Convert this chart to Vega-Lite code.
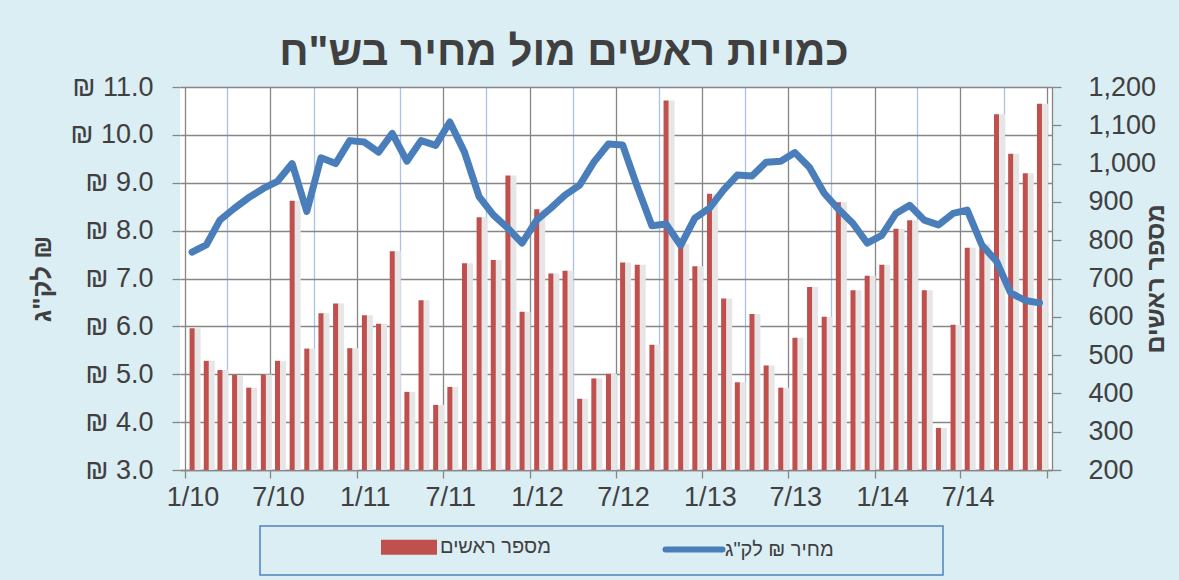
{
  "$schema": "https://vega.github.io/schema/vega-lite/v6.json",
  "width": 872,
  "height": 383,
  "autosize": {"type": "none"},
  "padding": {"left": 180, "top": 87, "right": 127, "bottom": 110},
  "background": "#dbeef4",
  "config": {"font": "Liberation Sans", "view": {"fill": "white", "stroke": null}},
  "title": {"text": "כמויות ראשים מול מחיר בש\"ח", "fontSize": 42, "fontWeight": "bold", "color": "#404040", "anchor": "middle", "frame": "group", "dx": -52, "offset": -1},
  "data": {"values": [
    {"month": "2010-01-16", "heads": 570, "price": 7.55},
    {"month": "2010-02-15", "heads": 485, "price": 7.70},
    {"month": "2010-03-16", "heads": 461, "price": 8.22},
    {"month": "2010-04-16", "heads": 448, "price": 8.47},
    {"month": "2010-05-16", "heads": 415, "price": 8.69},
    {"month": "2010-06-16", "heads": 449, "price": 8.88},
    {"month": "2010-07-16", "heads": 485, "price": 9.03},
    {"month": "2010-08-16", "heads": 903, "price": 9.40},
    {"month": "2010-09-16", "heads": 517, "price": 8.40},
    {"month": "2010-10-16", "heads": 609, "price": 9.52},
    {"month": "2010-11-16", "heads": 635, "price": 9.40},
    {"month": "2010-12-16", "heads": 518, "price": 9.88},
    {"month": "2011-01-16", "heads": 604, "price": 9.85},
    {"month": "2011-02-15", "heads": 582, "price": 9.64},
    {"month": "2011-03-16", "heads": 771, "price": 10.03},
    {"month": "2011-04-16", "heads": 404, "price": 9.45},
    {"month": "2011-05-16", "heads": 643, "price": 9.88},
    {"month": "2011-06-16", "heads": 370, "price": 9.78},
    {"month": "2011-07-16", "heads": 417, "price": 10.27},
    {"month": "2011-08-16", "heads": 740, "price": 9.64},
    {"month": "2011-09-16", "heads": 860, "price": 8.71},
    {"month": "2011-10-16", "heads": 748, "price": 8.33},
    {"month": "2011-11-16", "heads": 969, "price": 8.05},
    {"month": "2011-12-16", "heads": 613, "price": 7.74},
    {"month": "2012-01-16", "heads": 881, "price": 8.22},
    {"month": "2012-02-15", "heads": 713, "price": 8.47},
    {"month": "2012-03-16", "heads": 720, "price": 8.74},
    {"month": "2012-04-16", "heads": 386, "price": 8.95},
    {"month": "2012-05-16", "heads": 439, "price": 9.43},
    {"month": "2012-06-16", "heads": 451, "price": 9.81},
    {"month": "2012-07-16", "heads": 742, "price": 9.79},
    {"month": "2012-08-16", "heads": 736, "price": 8.92},
    {"month": "2012-09-16", "heads": 527, "price": 8.10},
    {"month": "2012-10-16", "heads": 1165, "price": 8.14},
    {"month": "2012-11-16", "heads": 790, "price": 7.69},
    {"month": "2012-12-16", "heads": 732, "price": 8.26},
    {"month": "2013-01-16", "heads": 921, "price": 8.47},
    {"month": "2013-02-15", "heads": 648, "price": 8.85},
    {"month": "2013-03-16", "heads": 429, "price": 9.16},
    {"month": "2013-04-16", "heads": 607, "price": 9.14},
    {"month": "2013-05-16", "heads": 473, "price": 9.43},
    {"month": "2013-06-16", "heads": 415, "price": 9.45},
    {"month": "2013-07-16", "heads": 545, "price": 9.63},
    {"month": "2013-08-16", "heads": 678, "price": 9.32},
    {"month": "2013-09-16", "heads": 600, "price": 8.78},
    {"month": "2013-10-16", "heads": 899, "price": 8.45},
    {"month": "2013-11-16", "heads": 669, "price": 8.15},
    {"month": "2013-12-16", "heads": 707, "price": 7.74},
    {"month": "2014-01-16", "heads": 736, "price": 7.90},
    {"month": "2014-02-15", "heads": 830, "price": 8.36},
    {"month": "2014-03-16", "heads": 852, "price": 8.53},
    {"month": "2014-04-16", "heads": 669, "price": 8.22},
    {"month": "2014-05-16", "heads": 310, "price": 8.12},
    {"month": "2014-06-16", "heads": 579, "price": 8.36},
    {"month": "2014-07-16", "heads": 780, "price": 8.43},
    {"month": "2014-08-16", "heads": 790, "price": 7.70},
    {"month": "2014-09-16", "heads": 1129, "price": 7.36},
    {"month": "2014-10-16", "heads": 1026, "price": 6.70},
    {"month": "2014-11-16", "heads": 975, "price": 6.54},
    {"month": "2014-12-16", "heads": 1156, "price": 6.49}
  ]},
  "encoding": {
    "x": {
      "field": "month", "type": "temporal",
      "scale": {"type": "utc", "domain": [{"year": 2010, "month": 1, "date": 1, "utc": true}, {"year": 2015, "month": 1, "date": 1, "utc": true}]},
      "axis": {
        "title": null,
        "values": [
          {"year": 2010, "month": 1, "date": 1, "utc": true}, {"year": 2010, "month": 4, "date": 1, "utc": true}, {"year": 2010, "month": 7, "date": 1, "utc": true}, {"year": 2010, "month": 10, "date": 1, "utc": true},
          {"year": 2011, "month": 1, "date": 1, "utc": true}, {"year": 2011, "month": 4, "date": 1, "utc": true}, {"year": 2011, "month": 7, "date": 1, "utc": true}, {"year": 2011, "month": 10, "date": 1, "utc": true},
          {"year": 2012, "month": 1, "date": 1, "utc": true}, {"year": 2012, "month": 4, "date": 1, "utc": true}, {"year": 2012, "month": 7, "date": 1, "utc": true}, {"year": 2012, "month": 10, "date": 1, "utc": true},
          {"year": 2013, "month": 1, "date": 1, "utc": true}, {"year": 2013, "month": 4, "date": 1, "utc": true}, {"year": 2013, "month": 7, "date": 1, "utc": true}, {"year": 2013, "month": 10, "date": 1, "utc": true},
          {"year": 2014, "month": 1, "date": 1, "utc": true}, {"year": 2014, "month": 4, "date": 1, "utc": true}, {"year": 2014, "month": 7, "date": 1, "utc": true}, {"year": 2014, "month": 10, "date": 1, "utc": true},
          {"year": 2015, "month": 1, "date": 1, "utc": true}
        ],
        "labelExpr": "utcyear(datum.value) < 2015 && utcmonth(datum.value) % 6 === 0 ? (utcmonth(datum.value) + 1) + '/' + (utcyear(datum.value) - 2000) : ''",
        "labelOffset": 7.5,
        "labelFontSize": 27,
        "labelColor": "#404040",
        "labelPadding": 6,
        "labelOverlap": false,
        "labelFlush": false,
        "labelBound": false,
        "tickSize": 8,
        "tickColor": "#868686",
        "tickWidth": 1.3,
        "tickOpacity": {"condition": {"test": "utcmonth(datum.value) % 6 === 3", "value": 0}, "value": 1},
        "grid": true,
        "gridColor": {"condition": {"test": "utcmonth(datum.value) % 6 === 3", "value": "#a9c3ea"}, "value": "#868686"},
        "gridWidth": 1.3,
        "domainColor": "#868686",
        "domainWidth": 1.3
      }
    }
  },
  "layer": [
    {
      "mark": {"type": "bar", "width": 7, "xOffset": 5, "color": "#e6e6e6"},
      "encoding": {
        "y": {"field": "heads", "type": "quantitative", "scale": {"domain": [200, 1200], "zero": false}, "axis": null},
        "y2": {"datum": 200}
      }
    },
    {
      "mark": {"type": "bar", "width": 5},
      "encoding": {
        "y": {
          "field": "heads", "type": "quantitative",
          "scale": {"domain": [200, 1200], "zero": false},
          "axis": {
            "orient": "right",
            "values": [200, 300, 400, 500, 600, 700, 800, 900, 1000, 1100, 1200],
            "format": ",d",
            "labelFontSize": 27,
            "labelColor": "#404040",
            "labelPadding": 27,
            "tickSize": 9,
            "tickColor": "#868686",
            "tickWidth": 1.3,
            "domainColor": "#868686",
            "domainWidth": 1.3,
            "grid": false,
            "title": "מספר ראשים",
            "titleFontSize": 25,
            "titleFontWeight": "bold",
            "titleColor": "#404040",
            "titleX": 103,
            "titleY": 191.5,
            "titleAngle": -90,
            "titleAlign": "center",
            "titleBaseline": "middle"
          }
        },
        "y2": {"datum": 200},
        "color": {
          "datum": "מספר ראשים",
          "type": "nominal",
          "scale": {"domain": ["מספר ראשים", "מחיר ₪ לק\"ג"], "range": ["#c0504d", "#4a7ebb"]},
          "legend": {
            "orient": "none",
            "legendX": 80,
            "legendY": 439,
            "direction": "horizontal",
            "title": "\u00a0",
            "titleOrient": "left",
            "titleFontSize": 10,
            "titlePadding": 128,
            "padding": 11,
            "strokeColor": "#4f81bd",
            "labelFontSize": 20,
            "labelColor": "#404040",
            "labelOffset": 21,
            "labelLimit": 500,
            "columnPadding": 102,
            "symbolSize": 100,
            "symbolStrokeWidth": 6,
            "encode": {
              "symbols": {"update": {
                "shape": {"signal": "datum.value === 'מספר ראשים' ? 'M-5,-0.9L5,-0.9L5,0.9L-5,0.9Z' : 'M-5.7,0L5.7,0M45.1,0'"},
                "fill": {"signal": "datum.value === 'מספר ראשים' ? '#c0504d' : 'transparent'"},
                "stroke": {"signal": "datum.value === 'מספר ראשים' ? 'transparent' : '#4a7ebb'"},
                "strokeCap": {"value": "round"},
                "opacity": {"value": 1}
              }},
              "legend": {"update": {"strokeWidth": {"value": 1.5}}}
            }
          }
        }
      }
    },
    {
      "mark": {"type": "line", "strokeWidth": 7, "strokeCap": "round", "strokeJoin": "round"},
      "encoding": {
        "y": {
          "field": "price", "type": "quantitative",
          "scale": {"domain": [3, 11], "zero": false},
          "axis": {
            "orient": "left",
            "values": [3, 4, 5, 6, 7, 8, 9, 10, 11],
            "labelExpr": "'₪ ' + format(datum.value, '.1f')",
            "labelFontSize": 27,
            "labelColor": "#404040",
            "labelPadding": 19,
            "tickSize": 8,
            "tickColor": "#868686",
            "tickWidth": 1.3,
            "domain": false,
            "grid": true,
            "gridColor": "#868686",
            "gridWidth": 1.3,
            "title": "לק\"ג ₪",
            "titleFontSize": 26,
            "titleFontWeight": "bold",
            "titleColor": "#404040",
            "titleX": -138,
            "titleY": 191.5,
            "titleAngle": -90,
            "titleAlign": "center",
            "titleBaseline": "middle"
          }
        },
        "color": {"datum": "מחיר ₪ לק\"ג", "type": "nominal"}
      }
    }
  ],
  "resolve": {"scale": {"y": "independent"}}
}
